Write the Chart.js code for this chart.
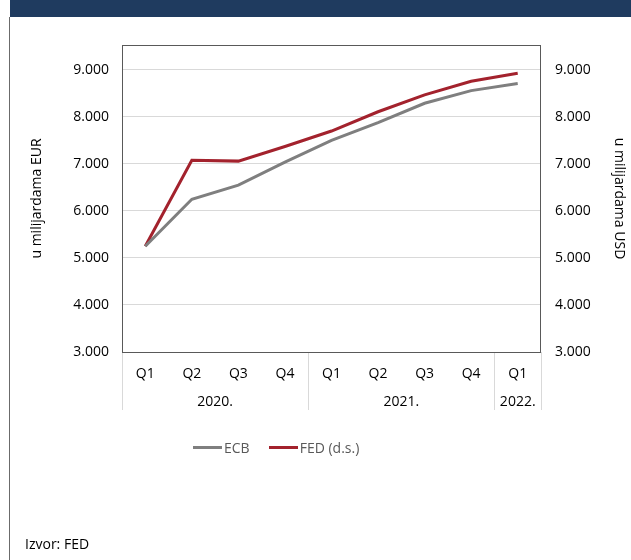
<!DOCTYPE html>
<html>
<head>
<meta charset="utf-8">
<script src="https://cdn.jsdelivr.net/npm/chart.js@4.4.1/dist/chart.umd.min.js"></script>
<style>
  body { margin: 0; background: #fff; font-family: "Open Sans", sans-serif; }
  #wrap { position: relative; width: 631px; height: 560px; overflow: hidden; }
  #header { position: absolute; left: 10px; top: 0; width: 621px; height: 17px; background: #1f3b5f; }
  #frame { position: absolute; left: 9px; top: 17px; width: 1px; height: 543px; background: #6b6b6b; }
  canvas { position: absolute; left: 0; top: 0; }
  #legend { position: absolute; left: 193px; top: 438px; display: flex; align-items: center; font-size: 14px; color: #595959; }
  .item { display: flex; align-items: center; margin-right: 19px; }
  .swatch { width: 29px; height: 3px; margin-right: 2px; }
  #source { position: absolute; left: 25px; top: 534px; font-size: 14px; color: #000; }
</style>
</head>
<body>
<div id="wrap">
  <div id="header"></div>
  <div id="frame"></div>
  <canvas id="chart" width="631" height="560"></canvas>
  <div id="legend"></div>
  <div id="source">Izvor: FED</div>
</div>
<script>
// kvartali i godine
const quarters = ["Q1", "Q2", "Q3", "Q4", "Q1", "Q2", "Q3", "Q4", "Q1"];
const years = ["2020.", "2021.", "2022."];
const quartersPerYear = [4, 4, 1];

// vrijednosti (u milijardama)
const ecbValues = [5250, 6250, 6550, 7040, 7500, 7880, 8290, 8560, 8710];
const fedValues = [5250, 7080, 7060, 7370, 7700, 8110, 8470, 8760, 8930];

// oznake i raspon osi y
const yTicks = [3000, 4000, 5000, 6000, 7000, 8000, 9000];
const yMin = 3000;
const yMax = 9530;

function formatThousands(v) {
  return String(v).replace(/\B(?=(\d{3})+(?!\d))/g, ".");
}

function setTicks(s) {
  s.ticks = yTicks.map(function (v) { return { value: v }; });
}

// okvir, separatori i godine ispod osi x
const groupPlugin = {
  id: "groups",
  afterDraw(chart) {
    const ctx = chart.ctx;
    const a = chart.chartArea;
    const x = chart.scales.x;
    ctx.save();

    var edges = [a.left];
    var start = 0;
    quartersPerYear.forEach(function (count) {
      var end = start + count;
      if (end < quarters.length) {
        edges.push((x.getPixelForValue(end - 1) + x.getPixelForValue(end)) / 2);
      } else {
        edges.push(a.right);
      }
      start = end;
    });

    ctx.strokeStyle = "#d9d9d9";
    ctx.lineWidth = 1;
    edges.forEach(function (px) {
      ctx.beginPath();
      ctx.moveTo(Math.round(px) + 0.5, a.bottom);
      ctx.lineTo(Math.round(px) + 0.5, a.bottom + 58);
      ctx.stroke();
    });

    ctx.fillStyle = "#000";
    ctx.font = "14px 'Open Sans', sans-serif";
    ctx.textAlign = "center";
    ctx.textBaseline = "middle";
    years.forEach(function (year, i) {
      ctx.fillText(year, (edges[i] + edges[i + 1]) / 2, a.bottom + 50);
    });

    ctx.strokeStyle = "#595959";
    ctx.strokeRect(Math.round(a.left) + 0.5, Math.round(a.top) + 0.5,
      Math.round(a.width) - 1, Math.round(a.height));
    ctx.restore();
  }
};

Chart.defaults.font.family = "'Open Sans', sans-serif";
Chart.defaults.font.size = 14;
Chart.defaults.color = "#000";

var chart = new Chart(document.getElementById("chart").getContext("2d"), {
  type: "line",
  data: {
    labels: quarters,
    datasets: [
      {
        label: "ECB",
        data: ecbValues,
        yAxisID: "y",
        borderColor: "#7f7f7f",
        borderWidth: 3,
        pointRadius: 0,
        tension: 0
      },
      {
        label: "FED (d.s.)",
        data: fedValues,
        yAxisID: "y2",
        borderColor: "#a3222d",
        borderWidth: 3,
        pointRadius: 0,
        tension: 0
      }
    ]
  },
  options: {
    responsive: false,
    animation: false,
    layout: { padding: { top: 45, bottom: 148, left: 0, right: 0 } },
    plugins: { legend: { display: false }, tooltip: { enabled: false } },
    scales: {
      x: {
        offset: true,
        grid: { display: false },
        border: { display: false },
        ticks: { padding: 6, maxRotation: 0, autoSkip: false },
        afterFit: function (s) { s.height = 60; }
      },
      y: {
        position: "left",
        min: yMin,
        max: yMax,
        ticks: { padding: 13, callback: formatThousands },
        afterBuildTicks: setTicks,
        grid: { color: "#d9d9d9", drawTicks: false },
        border: { display: false },
        title: { display: true, text: "u milijardama EUR", padding: { top: 29, bottom: 0 } },
        afterFit: function (s) { s.width = 122; }
      },
      y2: {
        position: "right",
        min: yMin,
        max: yMax,
        ticks: { padding: 14, callback: formatThousands },
        afterBuildTicks: setTicks,
        grid: { display: false, drawTicks: false },
        border: { display: false },
        title: { display: true, text: "u milijardama USD", padding: { top: 4, bottom: 0 } },
        afterFit: function (s) { s.width = 90; }
      }
    }
  },
  plugins: [groupPlugin]
});

// legenda iz skupova podataka
var legend = document.getElementById("legend");
chart.data.datasets.forEach(function (ds) {
  var item = document.createElement("div");
  item.className = "item";
  var sw = document.createElement("span");
  sw.className = "swatch";
  sw.style.background = ds.borderColor;
  var txt = document.createElement("span");
  txt.textContent = ds.label;
  item.appendChild(sw);
  item.appendChild(txt);
  legend.appendChild(item);
});
</script>
</body>
</html>
